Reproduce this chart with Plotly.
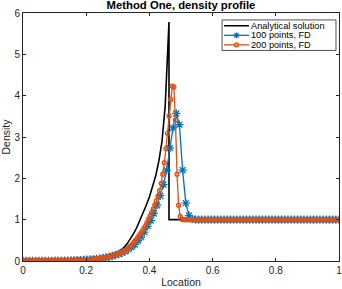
import numpy as np
import plotly.graph_objects as go

title_text = "Method One, density profile"
x_label = "Location"
y_label = "Density"
legend_names = ["Analytical solution", "100 points, FD", "200 points, FD"]

x_ticks = [0, 0.2, 0.4, 0.6, 0.8, 1]
x_tick_labels = ["0", "0.2", "0.4", "0.6", "0.8", "1"]
y_ticks = [0, 1, 2, 3, 4, 5, 6]
y_tick_labels = ["0", "1", "2", "3", "4", "5", "6"]

# analytical solution
analytic_x = [0.00, 0.10, 0.15, 0.18, 0.20, 0.22, 0.24, 0.26, 0.28, 0.30,
              0.31, 0.32, 0.33, 0.34, 0.35, 0.36, 0.37, 0.38, 0.39, 0.40,
              0.41, 0.42, 0.43, 0.44, 0.45, 0.456, 0.462, 0.462, 1.00]
analytic_y = [0.002, 0.006, 0.014, 0.025, 0.035, 0.050, 0.070, 0.100, 0.145, 0.21,
              0.26, 0.33, 0.42, 0.53, 0.66, 0.81, 0.98, 1.16, 1.35, 1.55,
              1.78, 2.06, 2.42, 2.90, 3.75, 4.60, 5.78, 1.00, 1.00]

# 100-point finite difference solution
fd100_x = np.linspace(0, 1, 100)
fd100_y = [0.002, 0.002, 0.002, 0.002, 0.003, 0.003, 0.003, 0.003, 0.004, 0.004,
           0.005, 0.006, 0.007, 0.008, 0.010, 0.012, 0.014, 0.017, 0.021, 0.025,
           0.030, 0.035, 0.041, 0.049, 0.058, 0.070, 0.085, 0.100, 0.120, 0.143,
           0.170, 0.198, 0.235, 0.280, 0.335, 0.400, 0.490, 0.580, 0.700, 0.840,
           0.980, 1.150, 1.350, 1.580, 1.850, 2.200, 2.730, 3.220, 3.570, 3.300,
           2.200, 1.400, 1.100, 1.020, 1.000, 1.000, 1.000, 1.000, 1.000, 1.000,
           1.000, 1.000, 1.000, 1.000, 1.000, 1.000, 1.000, 1.000, 1.000, 1.000,
           1.000, 1.000, 1.000, 1.000, 1.000, 1.000, 1.000, 1.000, 1.000, 1.000,
           1.000, 1.000, 1.000, 1.000, 1.000, 1.000, 1.000, 1.000, 1.000, 1.000,
           1.000, 1.000, 1.000, 1.000, 1.000, 1.000, 1.000, 1.000, 1.000, 1.000]

# 200-point finite difference solution
fd200_x = np.linspace(0, 1, 200)
fd200_y = [0.002, 0.002, 0.002, 0.002, 0.002, 0.002, 0.002, 0.002, 0.002, 0.002,
           0.003, 0.003, 0.003, 0.003, 0.004, 0.004, 0.004, 0.004, 0.005, 0.005,
           0.005, 0.006, 0.006, 0.006, 0.007, 0.007, 0.008, 0.008, 0.009, 0.010,
           0.011, 0.012, 0.013, 0.014, 0.016, 0.018, 0.020, 0.022, 0.024, 0.027,
           0.030, 0.033, 0.036, 0.040, 0.043, 0.047, 0.051, 0.056, 0.061, 0.066,
           0.071, 0.078, 0.085, 0.093, 0.101, 0.111, 0.123, 0.135, 0.150, 0.162,
           0.176, 0.190, 0.205, 0.222, 0.245, 0.270, 0.300, 0.330, 0.370, 0.410,
           0.462, 0.506, 0.553, 0.605, 0.659, 0.718, 0.780, 0.840, 0.930, 1.010,
           1.090, 1.170, 1.260, 1.360, 1.460, 1.570, 1.700, 1.880, 2.100, 2.380,
           2.720, 3.090, 3.510, 3.910, 4.230, 4.210, 3.410, 2.100, 1.350, 1.080,
           1.010, 1.000, 1.000, 1.000, 1.000, 1.000, 1.000, 1.000, 1.000, 1.000,
           1.000, 1.000, 1.000, 1.000, 1.000, 1.000, 1.000, 1.000, 1.000, 1.000,
           1.000, 1.000, 1.000, 1.000, 1.000, 1.000, 1.000, 1.000, 1.000, 1.000,
           1.000, 1.000, 1.000, 1.000, 1.000, 1.000, 1.000, 1.000, 1.000, 1.000,
           1.000, 1.000, 1.000, 1.000, 1.000, 1.000, 1.000, 1.000, 1.000, 1.000,
           1.000, 1.000, 1.000, 1.000, 1.000, 1.000, 1.000, 1.000, 1.000, 1.000,
           1.000, 1.000, 1.000, 1.000, 1.000, 1.000, 1.000, 1.000, 1.000, 1.000,
           1.000, 1.000, 1.000, 1.000, 1.000, 1.000, 1.000, 1.000, 1.000, 1.000,
           1.000, 1.000, 1.000, 1.000, 1.000, 1.000, 1.000, 1.000, 1.000, 1.000,
           1.000, 1.000, 1.000, 1.000, 1.000, 1.000, 1.000, 1.000, 1.000, 1.000]

BLACK = "#000000"
BLUE = "#0072BD"
ORANGE = "#D95319"
AXC = "#262626"
FONT = "Liberation Sans, Arial, Helvetica, sans-serif"

fig = go.Figure()
fig.add_trace(go.Scatter(x=analytic_x, y=analytic_y, mode="lines",
                         line=dict(color=BLACK, width=1.6), name=legend_names[0],
                         showlegend=False))
fig.add_trace(go.Scatter(x=fd100_x, y=fd100_y, mode="lines+markers",
                         line=dict(color=BLUE, width=1.3),
                         marker=dict(symbol="asterisk-open", size=7,
                                     line=dict(color=BLUE, width=1.3)),
                         name=legend_names[1], showlegend=False))
fig.add_trace(go.Scatter(x=fd200_x, y=fd200_y, mode="lines+markers",
                         line=dict(color=ORANGE, width=1.3),
                         marker=dict(symbol="circle-open", size=4,
                                     line=dict(color=ORANGE, width=1.3)),
                         name=legend_names[2], showlegend=False))

# legend box (drawn in plot-area paper coordinates)
shapes = []
annotations = []
shapes.append(dict(type="rect", xref="paper", yref="paper",
                   x0=0.630, x1=0.9905, y0=0.849, y1=0.972,
                   line=dict(color=AXC, width=0.8), fillcolor="white", layer="above"))
rows = [0.9486, 0.910, 0.8714]
colors = [BLACK, BLUE, ORANGE]
for k, (ry, col, name) in enumerate(zip(rows, colors, legend_names)):
    shapes.append(dict(type="line", xref="paper", yref="paper",
                       x0=0.636, x1=0.715, y0=ry, y1=ry,
                       line=dict(color=col, width=1.5 if k == 0 else 1.3), layer="above"))
    annotations.append(dict(text=name, xref="paper", yref="paper", x=0.716, y=ry,
                            xanchor="left", yanchor="middle", showarrow=False,
                            font=dict(family=FONT, size=9.2, color=BLACK)))
mx = 0.6756
# asterisk marker for 100 points
for (a, b, c, d) in [(-3, 0, 3, 0), (0, -3, 0, 3), (-2.2, -2.2, 2.2, 2.2), (-2.2, 2.2, 2.2, -2.2)]:
    shapes.append(dict(type="line", xref="paper", yref="paper",
                       xsizemode="pixel", ysizemode="pixel",
                       xanchor=mx, yanchor=rows[1], x0=a, y0=b, x1=c, y1=d,
                       line=dict(color=BLUE, width=1.2), layer="above"))
# circle marker for 200 points
shapes.append(dict(type="circle", xref="paper", yref="paper",
                   xsizemode="pixel", ysizemode="pixel",
                   xanchor=mx, yanchor=rows[2], x0=-2, y0=-2, x1=2, y1=2,
                   line=dict(color=ORANGE, width=1.3), fillcolor="rgba(0,0,0,0)", layer="above"))

axis_common = dict(showline=True, linecolor=AXC, linewidth=0.8, mirror="allticks",
                   ticks="inside", ticklen=3, tickcolor=AXC, tickwidth=0.8,
                   showgrid=False, zeroline=False, automargin=False,
                   ticklabeloverflow="allow",
                   tickfont=dict(family=FONT, size=10, color=AXC))

fig.update_layout(
    width=342, height=289,
    margin=dict(l=23, r=3, t=13, b=28),
    paper_bgcolor="white", plot_bgcolor="white",
    font=dict(family=FONT, size=10, color=AXC),
    title=dict(text="<b>" + title_text + "</b>", x=0.5, xref="paper", xanchor="center",
               y=0.983, yref="container", yanchor="middle",
               font=dict(family=FONT, size=11.3, color=BLACK)),
    xaxis=dict(range=[0, 1], tickvals=x_ticks, ticktext=x_tick_labels,
               title=dict(text=x_label, standoff=3, font=dict(family=FONT, size=10.5, color=AXC)),
               **axis_common),
    yaxis=dict(range=[0, 6], tickvals=y_ticks, ticktext=y_tick_labels,
               title=dict(text=y_label, standoff=2, font=dict(family=FONT, size=10.5, color=AXC)),
               **axis_common),
    shapes=shapes, annotations=annotations,
    showlegend=False,
)

fig.write_html("out.html", config={"displayModeBar": False},
               post_script="document.body.style.margin='0px';")
